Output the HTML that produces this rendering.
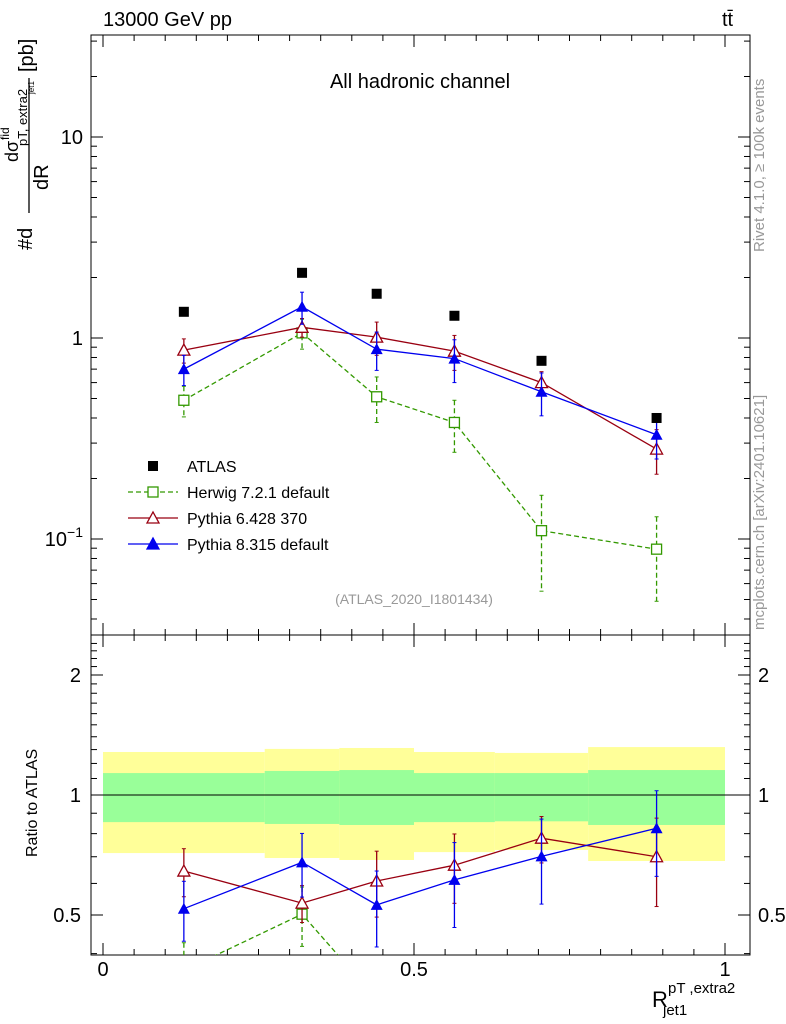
<!DOCTYPE html>
<html><head><meta charset="utf-8"><style>
html,body{margin:0;padding:0;background:#fff;width:786px;height:1024px;overflow:hidden;}
svg{display:block;font-family:"Liberation Sans",sans-serif;}
</style></head><body>
<svg id="c" width="786" height="1024" viewBox="0 0 786 1024" overflow="hidden"></svg>
<script>
const centers=[0.13,0.32,0.44,0.565,0.705,0.89];
const edges=[0,0.26,0.38,0.5,0.63,0.78,1.0];
const atlas=[1.35,2.11,1.66,1.29,0.77,0.40];
const herwig=[0.49,1.06,0.51,0.38,0.11,0.089];
const herwigErr=[0.085,0.18,0.13,0.11,0.055,0.04];
const py6=[0.87,1.13,1.01,0.86,0.60,0.28];
const py6Err=[0.12,0.12,0.19,0.17,0.08,0.07];
const py8=[0.70,1.43,0.88,0.79,0.54,0.33];
const py8Err=[0.12,0.26,0.19,0.19,0.13,0.08];
const yellowHi=[1.282,1.305,1.312,1.282,1.275,1.319];
const yellowLo=[0.715,0.695,0.687,0.719,0.728,0.683];
const greenHi=[1.135,1.149,1.155,1.135,1.135,1.155];
const greenLo=[0.855,0.846,0.841,0.855,0.859,0.841];
const ratioTicks=[0.5,1,2];
const xTicks=[0,0.5,1];

const svg=document.getElementById('c');const NS='http://www.w3.org/2000/svg';
function el(t,a,p){const e=document.createElementNS(NS,t);for(const k in a)e.setAttribute(k,a[k]);(p||svg).appendChild(e);return e;}
const X=v=>103+v*622;
const Y=v=>338-Math.log10(v)*201;
const R=v=>795-Math.log10(v)*398.6;
const L=91,Rt=750,T=35,M=635,B=955;

const defs=el('defs',{});
const c1=el('clipPath',{id:'cm'},defs);el('rect',{x:L,y:T,width:Rt-L,height:M-T},c1);
const c2=el('clipPath',{id:'cr'},defs);el('rect',{x:L,y:M,width:Rt-L,height:B-M},c2);

const gb=el('g',{'clip-path':'url(#cr)'});
for(let i=0;i<centers.length;i++){
 let r=el('rect',{x:X(edges[i]),y:R(yellowHi[i]),width:X(edges[i+1])-X(edges[i]),height:R(yellowLo[i])-R(yellowHi[i]),fill:'#ffff99'},gb);
 
}
for(let i=0;i<centers.length;i++){
 let r=el('rect',{x:X(edges[i]),y:R(greenHi[i]),width:X(edges[i+1])-X(edges[i]),height:R(greenLo[i])-R(greenHi[i]),fill:'#99ff99'},gb);
 
}
el('line',{x1:L,x2:Rt,y1:R(1),y2:R(1),stroke:'#000'});

el('rect',{x:L,y:T,width:Rt-L,height:M-T,fill:'none',stroke:'#000'});
el('rect',{x:L,y:M,width:Rt-L,height:B-M,fill:'none',stroke:'#000'});

for(let d=-2;d<=1;d++)for(let m=1;m<10;m++){const v=m*Math.pow(10,d);const y=Y(v);if(y<T||y>M)continue;const len=m==1?12:6;
 el('line',{x1:L,x2:L+len,y1:y,y2:y,stroke:'#000'});el('line',{x1:Rt,x2:Rt-len,y1:y,y2:y,stroke:'#000'});}
[[10,'10'],[1,'1']].forEach(([v,s])=>{const t=el('text',{x:L-8,y:Y(v)+7,'font-size':20,'text-anchor':'end'});t.textContent=s;});
const t01=el('text',{x:L-8,y:Y(0.1)+7,'font-size':20,'text-anchor':'end'});t01.innerHTML='10<tspan dy="-9" font-size="14">−1</tspan>';
for(let v=0.4;v<=2.5;v+=0.1){const y=R(v);if(y<M||y>B)continue;
 const big=ratioTicks.some(r=>Math.abs(r-v)<1e-6);const len=big?12:6;
 el('line',{x1:L,x2:L+len,y1:y,y2:y,stroke:'#000'});el('line',{x1:Rt,x2:Rt-len,y1:y,y2:y,stroke:'#000'});}
ratioTicks.forEach(v=>{const s=String(v);
 let t=el('text',{x:L-10,y:R(v)+7,'font-size':20,'text-anchor':'end'});t.textContent=s;
 t=el('text',{x:Rt+8,y:R(v)+7,'font-size':20});t.textContent=s;});
for(let i=0;i<=20;i++){const v=i*0.05;const x=X(v);const big=i%10==0;const len=big?12:6;
 [T,M].forEach(y0=>el('line',{x1:x,x2:x,y1:y0,y2:y0+len,stroke:'#000'}));
 [M,B].forEach(y0=>el('line',{x1:x,x2:x,y1:y0,y2:y0-len,stroke:'#000'}));}
xTicks.forEach(v=>{const t=el('text',{x:X(v),y:976,'font-size':20,'text-anchor':'middle'});t.textContent=String(v);});

function series(vals,errs,color,marker,dash,name,clip,ratio){
 const g=el('g',{'clip-path':'url(#'+clip+')'});
 
 const f=ratio?(v=>R(v)):(v=>Y(v));
 const vv=vals.map((v,i)=>ratio?v/atlas[i]:v);
 const ee=errs.map((e,i)=>ratio?e/atlas[i]:e);
 el('polyline',{points:vv.map((v,i)=>X(centers[i])+','+f(v)).join(' '),fill:'none',stroke:color,'stroke-width':1.3,'stroke-dasharray':dash||''},g);
 vv.forEach((v,i)=>{const x=X(centers[i]);
  el('line',{x1:x,x2:x,y1:f(v+ee[i]),y2:f(Math.max(v-ee[i],0.001)),stroke:color,'stroke-width':1.3,'stroke-dasharray':dash||''},g);
  [v+ee[i],Math.max(v-ee[i],0.001)].forEach(w=>el('line',{x1:x-2,x2:x+2,y1:f(w),y2:f(w),stroke:color},g));
  const y=f(v);
  if(marker=='sq')el('rect',{x:x-5,y:y-5,width:10,height:10,fill:'#fff',stroke:color,'stroke-width':1.3},g);
  else if(marker=='otri')el('polygon',{points:`${x-6},${y+5} ${x+6},${y+5} ${x},${y-6}`,fill:'#fff',stroke:color,'stroke-width':1.3},g);
  else el('polygon',{points:`${x-6},${y+5} ${x+6},${y+5} ${x},${y-6}`,fill:color},g);
 });
}
series(herwig,herwigErr,'#339900','sq','5,3','herwig-series','cm',false);
series(py6,py6Err,'#990011','otri','','pythia6-series','cm',false);
series(py8,py8Err,'#0000ee','ftri','','pythia8-series','cm',false);
series(herwig,herwigErr,'#339900','sq','5,3','herwig-ratio','cr',true);
series(py6,py6Err,'#990011','otri','','pythia6-ratio','cr',true);
series(py8,py8Err,'#0000ee','ftri','','pythia8-ratio','cr',true);
atlas.forEach((v,i)=>{const r=el('rect',{x:X(centers[i])-5,y:Y(v)-5,width:10,height:10,fill:'#000'});
 });

const leg=[['ATLAS','#000','atlas'],['Herwig 7.2.1 default','#339900','sq'],['Pythia 6.428 370','#990011','otri'],['Pythia 8.315 default','#0000ee','ftri']];
leg.forEach(([s,c,m],i)=>{const y=466+i*26;const g=el('g',{});
 
 const x=153;
 if(m=='atlas')el('rect',{x:x-5,y:y-5,width:10,height:10,fill:'#000'},g);
 else{el('line',{x1:128,x2:178,y1:y,y2:y,stroke:c,'stroke-width':1.3,'stroke-dasharray':m=='sq'?'5,3':''},g);
  if(m=='sq')el('rect',{x:x-5,y:y-5,width:10,height:10,fill:'#fff',stroke:c,'stroke-width':1.3},g);
  else el('polygon',{points:`${x-6},${y+5} ${x+6},${y+5} ${x},${y-6}`,fill:m=='otri'?'#fff':c,stroke:c,'stroke-width':1.3},g);}
 const t=el('text',{x:187,y:y+6,'font-size':16},g);t.textContent=s;});

function txt(s,a,name,p){const t=el('text',a,p);t.textContent=s;return t;}
txt('13000 GeV pp',{x:103,y:26,'font-size':20},'title-left');
txt('tt̄',{x:722,y:26,'font-size':20},'title-right');
txt('All hadronic channel',{x:420,y:88,'font-size':20,'text-anchor':'middle'},'channel-label');
txt('(ATLAS_2020_I1801434)',{x:414,y:604,'font-size':14,fill:'#999','text-anchor':'middle'},'analysis-id');
txt('Rivet 4.1.0, ≥ 100k events',{x:0,y:0,'font-size':15,fill:'#999',transform:'translate(764,252) rotate(-90)'},'rivet-label');
txt('mcplots.cern.ch [arXiv:2401.10621]',{x:0,y:0,'font-size':15,fill:'#999',transform:'translate(764,630) rotate(-90)'},'mcplots-label');
txt('Ratio to ATLAS',{x:0,y:0,'font-size':16,transform:'translate(37,857) rotate(-90)'},'ratio-y-title');

const yg=el('g',{transform:'translate(0,250) rotate(-90)'});

el('text',{x:0,y:32,'font-size':20},yg).textContent='#d';
el('text',{x:88,y:18,'font-size':18},yg).textContent='dσ';
el('text',{x:110,y:9,'font-size':12},yg).textContent='fid';
el('text',{x:104,y:27,'font-size':13},yg).textContent='pT, extra2';
el('line',{x1:37,x2:172,y1:29,y2:29,stroke:'#000','stroke-width':1.3},yg);
el('text',{x:60,y:48,'font-size':20},yg).textContent='dR';
el('text',{x:156,y:34,'font-size':8},yg).textContent='jet1';
el('text',{x:178,y:33,'font-size':20},yg).textContent='[pb]';

const xt=el('g',{});

el('text',{x:652,y:1007,'font-size':22},xt).textContent='R';
el('text',{x:668,y:993,'font-size':15},xt).textContent='pT ,extra2';
el('text',{x:663,y:1015,'font-size':15},xt).textContent='jet1';
</script>
</body></html>
